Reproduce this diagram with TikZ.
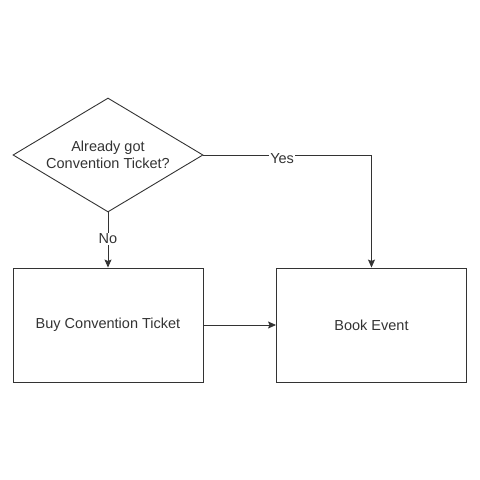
\documentclass[tikz,border=0pt]{standalone}
\usepackage{xcolor}
\usepackage{fontspec}
\setmainfont{Liberation Sans}
\usetikzlibrary{shapes,arrows,arrows.meta,positioning}

\definecolor{linegray}{HTML}{333333}
\definecolor{textgray}{HTML}{333333}

\tikzset{
    flowbox/.style={rectangle, draw=linegray, line width=0.9pt, minimum width=190pt, minimum height=114pt, inner sep=0pt, text=textgray, font=\fontsize{14.5}{17}\selectfont},
    decision/.style={diamond, draw=linegray, line width=0.9pt, aspect=1.667, minimum width=190pt, minimum height=114pt, inner sep=0pt, align=center, text=textgray, font=\fontsize{14.5}{17}\selectfont},
    edgelabel/.style={fill=white, inner sep=1pt, text=textgray, font=\fontsize{14.5}{17}\selectfont},
    flowline/.style={draw=linegray, line width=0.9pt, -{Stealth[length=8pt, width=7pt, inset=1.5pt]}}
}

\begin{document}
\begin{tikzpicture}[x=1pt, y=1pt]
            \useasboundingbox (0,0) rectangle (480,480);
            \node[decision] (ticketq) at (108,325) {Already got\\Convention Ticket?};
            \node[flowbox] (buyticket) at (108,155) {Buy Convention Ticket};
            \node[flowbox] (bookevent) at (371.5,155) {Book Event};

            \draw[flowline] (ticketq.east) -| node[edgelabel, pos=0.234, yshift=-4pt] {Yes} (bookevent.north);
            \draw[flowline] (ticketq.south) -- node[edgelabel, pos=0.48] {No} (buyticket.north);
            \draw[flowline] (buyticket.east) -- (bookevent.west);
        \end{tikzpicture}
\end{document}
